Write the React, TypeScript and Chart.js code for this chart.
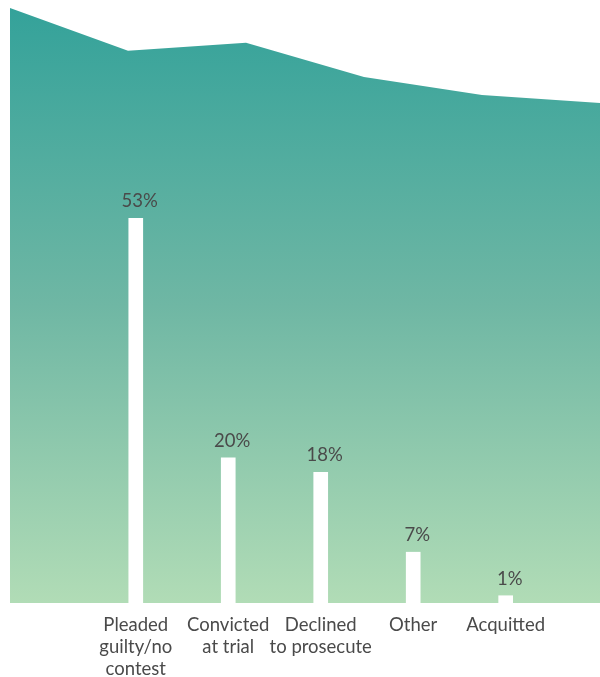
import React, { useEffect, useRef } from "react";
import { Chart, registerables } from "chart.js";

Chart.register(...registerables);

const categories: string[][] = [
  ["Pleaded", "guilty/no", "contest"],
  ["Convicted", "at trial"],
  ["Declined", "to prosecute"],
  ["Other"],
  ["Acquitted"],
];
const barPositions = [1, 2, 3, 4, 5];
const percentValues = [53, 20, 18, 7, 1];

const backdropPositions = [0, 1, 2, 3, 4, 5];
const backdropValues = [82, 76.1, 77.2, 72.5, 70.0, 68.9];

const X_MIN = -0.36;
const X_MAX = 6.02;

const FONT = "Lato, 'Open Sans', sans-serif";
const TEXT_COLOR = "#4a4a4a";

const valueLabelPlugin = {
  id: "valueLabels",
  afterDatasetsDraw(chart: any) {
    const meta = chart.getDatasetMeta(0);
    const ctx = chart.ctx;
    ctx.save();
    ctx.font = `18.5px ${FONT}`;
    ctx.fillStyle = TEXT_COLOR;
    ctx.textAlign = "center";
    ctx.textBaseline = "alphabetic";
    meta.data.forEach((bar: any, i: number) => {
      ctx.fillText(`${percentValues[i]}%`, bar.x + 4, bar.y - 11);
    });
    ctx.restore();
  },
};

export default function App() {
  const canvasRef = useRef<HTMLCanvasElement | null>(null);

  useEffect(() => {
    if (!canvasRef.current) return;
    const chart = new Chart(canvasRef.current, {
      type: "bar",
      data: {
        datasets: [
          {
            type: "bar",
            data: barPositions.map((x, i) => ({ x, y: percentValues[i] })),
            backgroundColor: "#ffffff",
            barThickness: 14,
            grouped: false,
            xAxisID: "x",
            yAxisID: "y",
            order: 0,
          } as any,
          {
            type: "line",
            data: backdropPositions.map((x, i) => ({ x, y: backdropValues[i] })),
            xAxisID: "x2",
            yAxisID: "y",
            borderWidth: 0,
            pointRadius: 0,
            tension: 0,
            fill: "origin",
            order: 1,
            backgroundColor: (c: any) => {
              const area = c.chart.chartArea;
              if (!area) return "#6fb7a4";
              const g = c.chart.ctx.createLinearGradient(0, area.top, 0, area.bottom);
              g.addColorStop(0, "#34a29a");
              g.addColorStop(0.5, "#6fb7a4");
              g.addColorStop(1, "#b1dcb6");
              return g;
            },
          } as any,
        ],
      },
      options: {
        responsive: false,
        animation: false,
        layout: { padding: { left: 2, right: 0, top: 0, bottom: 0 } },
        plugins: {
          legend: { display: false },
          tooltip: { enabled: false },
        },
        scales: {
          x: {
            type: "linear",
            offset: false,
            min: X_MIN,
            max: X_MAX,
            grid: { display: false, drawTicks: false, tickLength: 0 },
            border: { display: false },
            afterBuildTicks: (scale: any) => {
              scale.ticks = [X_MIN, ...barPositions, X_MAX].map((v) => ({ value: v }));
            },
            afterFit: (scale: any) => {
              scale.height = 74;
              scale.paddingLeft = 0;
              scale.paddingRight = 0;
            },
            ticks: {
              autoSkip: false,
              maxRotation: 0,
              padding: 11,
              color: TEXT_COLOR,
              font: { family: FONT, size: 18.5, lineHeight: 1.19 },
              callback: (value: any) => {
                const idx = barPositions.indexOf(Number(value));
                return idx >= 0 ? categories[idx] : "";
              },
            },
          },
          x2: {
            type: "linear",
            offset: false,
            display: false,
            min: 0,
            max: 5,
          },
          y: {
            display: false,
            min: 0,
            max: 82,
          },
        },
      },
      plugins: [valueLabelPlugin],
    } as any);
    return () => chart.destroy();
  }, []);

  return (
    <div style={{ position: "absolute", left: 8, top: 8, width: 592, height: 669 }}>
      <canvas
        ref={canvasRef}
        width={592}
        height={669}
        style={{ display: "block", width: 592, height: 669 }}
      />
    </div>
  );
}
